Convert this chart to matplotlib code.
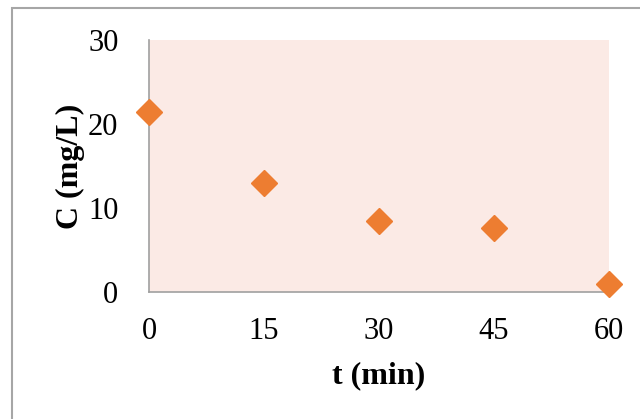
import matplotlib.pyplot as plt
from matplotlib.patches import Rectangle

# data
t_min = [0, 15, 30, 45, 60]
conc = [21.4, 13.0, 8.5, 7.6, 1.0]
xticks = [0, 15, 30, 45, 60]
yticks = [0, 10, 20, 30]

plt.rcParams['font.family'] = ['Liberation Serif', 'DejaVu Serif']

fig = plt.figure(figsize=(6.4, 4.19), dpi=100)
ax = fig.add_axes([149/640, 1 - 292/419, (609-149)/640, (292-40)/419])

# outer chart border (runs off the right and bottom edges)
fig.patches.append(Rectangle((12/640, -0.1), 1.2, 1 - 8.5/419 + 0.1,
                             transform=fig.transFigure, fill=False,
                             edgecolor='#a6a6a6', lw=1.5, zorder=0))

ax.set_facecolor('#fbeae5')
ax.plot(t_min, conc, linestyle='none', marker='D', ms=13.5,
        color='#ed7d31', clip_on=False, zorder=3)

ax.set_xlim(0, 60)
ax.set_ylim(0, 30)
ax.set_xticks(xticks)
ax.set_yticks(yticks)
ax.tick_params(length=0, labelsize=22)
ax.tick_params(axis='x', pad=18)
ax.tick_params(axis='y', pad=22)

for s in ['top', 'right']:
    ax.spines[s].set_visible(False)
for s in ['left', 'bottom']:
    ax.spines[s].set_color('#a0a0a0')
    ax.spines[s].set_linewidth(1.2)

ax.set_xlabel('t (min)', fontsize=23, fontweight='bold', labelpad=11)
ax.set_ylabel('C (mg/L)', fontsize=23, fontweight='bold', labelpad=2)

fig.savefig('out.png', dpi=100)
